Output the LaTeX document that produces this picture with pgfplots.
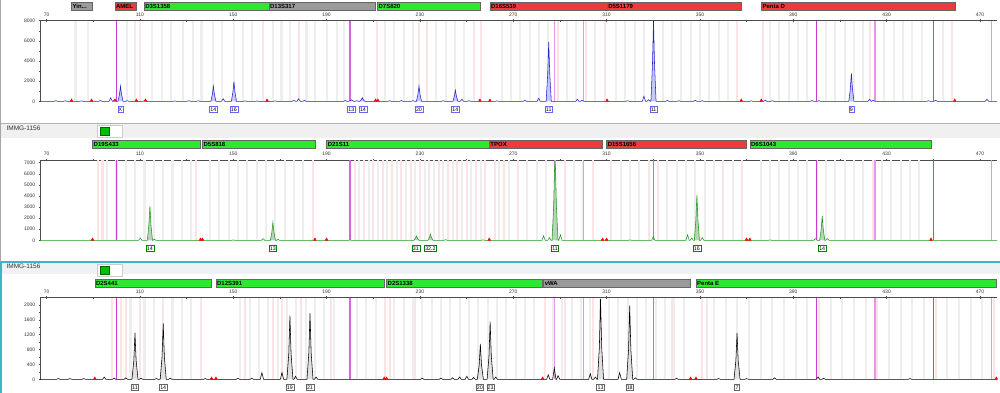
\documentclass[border=0pt]{standalone}
\usepackage{fontspec}
\setmainfont{Liberation Sans}
\usepackage{pgfplots}
\pgfplotsset{compat=1.18}
\definecolor{bingray}{HTML}{EEEEEE}
\definecolor{binpink}{HTML}{FCE4E4}
\definecolor{magdark}{HTML}{C83CD4}
\definecolor{magmid}{HTML}{D466DC}
\definecolor{maglight}{HTML}{E497E8}
\definecolor{lgreen}{HTML}{2EE82E}
\definecolor{lred}{HTML}{F03A3A}
\definecolor{lgray}{HTML}{9A9A9A}
\definecolor{tblue}{HTML}{2323C8}
\definecolor{tgreen}{HTML}{1E9A1E}
\definecolor{tealc}{HTML}{3CB6C4}
\definecolor{sepg}{HTML}{F0F0F0}
\definecolor{sepb}{HTML}{EEF2F5}
\pgfplotsset{
 ep/.style={scale only axis, width=957pt, xmin=67.2, xmax=477.3, clip=false, anchor=south west,
   axis x line*=top, axis y line*=left, axis line style={-, black!70, line width=0.5pt},
   xtick={70,110,...,470}, minor xtick={90,130,...,450},
   tick align=center, major tick length=2.5pt, minor tick length=2pt,
   tick style={black!70, line width=0.4pt},
   every tick label/.append style={font=\fontsize{5}{6}\selectfont, text=black!80},
   /pgf/number format/assume math mode=true,
   /pgf/number format/set thousands separator={},
   scaled y ticks=false,
   xticklabel style={yshift=-0.5pt},
 },
 hdr/.style={scale only axis, width=957pt, xmin=67.2, xmax=477.3, ymin=0, ymax=1, hide axis, clip=false, anchor=south west},
}
\newcommand{\loc}[4]{\addplot[draw=black!60, fill=#3, line width=0.4pt] coordinates {(#1,0)(#2,0)(#2,1)(#1,1)} -- cycle;
  \node[anchor=west, inner sep=1pt, font=\fontsize{6}{7}\selectfont\bfseries] at (axis cs:#1,0.5) {#4};}
\newcommand{\al}[3]{\node[draw=#3, fill=white, inner sep=0.9pt, line width=0.5pt, font=\fontsize{5.3}{6}\selectfont, yshift=-8pt] at (axis cs:#1,0) {#2};}
\begin{document}
\begin{tikzpicture}[x=1pt,y=1pt]
\useasboundingbox (0,0) rectangle (1000,393);
\fill[white] (0,0) rectangle (1000,393);
% separator 1
\fill[sepg] (0,255) rectangle (1000,270);
\draw[black!30, line width=0.6pt] (0,270) -- (1000,270);
\node[anchor=west, font=\fontsize{6.5}{7}\selectfont, text=black!80] at (3,265) {IMMG-1156};
\draw[black!20, fill=white] (97,255.7) rectangle (122,268);
\draw[green!40!black, fill=green!75!black] (100,258) rectangle (109,266);
% separator 2
\fill[sepb] (0,119) rectangle (1000,131);
\draw[tealc, line width=1.2pt] (0,131) -- (1000,131);
\node[anchor=west, font=\fontsize{6.5}{7}\selectfont, text=black!80] at (3,126.3) {IMMG-1156};
\draw[black!20, fill=white] (97,116.3) rectangle (122,129);
\draw[green!40!black, fill=green!75!black] (100,119) rectangle (109,127);
\draw[black!35, line width=1pt] (0.5,131) -- (0.5,393);
\draw[tealc, line width=1.6pt] (0.8,0) -- (0.8,131);

% ===== headers =====
\begin{axis}[hdr, at={(40pt,383pt)}, height=7.3pt]
\loc{80.7}{89.5}{lgray}{Yin...}
\loc{99.3}{108.5}{lred}{AMEL}
\loc{111.8}{165.3}{lgreen}{D3S1358}
\loc{165.3}{211}{lgray}{D13S317}
\loc{211.8}{255.7}{lgreen}{D7S820}
\loc{260}{310.2}{lred}{D16S539}
\loc{310.2}{367.7}{lred}{D5S1179}
\loc{376.3}{459.2}{lred}{Penta D}
\end{axis}
\begin{axis}[hdr, at={(40pt,244.7pt)}, height=8.3pt]
\loc{89.7}{136}{lgreen}{D19S433}
\loc{136.8}{185}{lgreen}{D5S818}
\loc{190}{259.7}{lgreen}{D21S11}
\loc{259.7}{308.3}{lred}{TPOX}
\loc{310}{370}{lred}{D15S1656}
\loc{371.4}{449}{lgreen}{D6S1043}
\end{axis}
\begin{axis}[hdr, at={(40pt,105.7pt)}, height=8.3pt]
\loc{90.7}{140.7}{lgreen}{D2S441}
\loc{142.6}{214.7}{lgreen}{D12S391}
\loc{215.7}{282.6}{lgreen}{D2S1338}
\loc{283}{346}{lgray}{vWA}
\loc{348.3}{477}{lgreen}{Penta E}
\end{axis}

% ===== panel 1 =====
\begin{axis}[ep, at={(40pt,290.7pt)}, height=81.6pt, ymin=-100, ymax=8000, ytick={0,2000,...,8000}, minor y tick num=1]
\addplot[ycomb, draw=bingray, line width=2.1pt, mark=none] coordinates {(82.4,8000)(87.8,8000)(104.3,8000)(108,8000)(115.2,8000)(119.3,8000)(123.5,8000)(128.5,8000)(132.8,8000)(136.4,8000)(141.5,8000)(145,8000)(150.2,8000)(154.3,8000)(158,8000)(167.1,8000)(170.7,8000)(174.3,8000)(181.4,8000)(185,8000)(190,8000)(194.3,8000)(197.5,8000)(206,8000)(215,8000)(219,8000)(223,8000)(227,8000)(237,8000)(241,8000)(245,8000)(249,8000)(265,8000)(269,8000)(273,8000)(277,8000)(281,8000)(285,8000)(293,8000)(297,8000)(305,8000)(314,8000)(318,8000)(322,8000)(326,8000)(334,8000)(338,8000)(342,8000)(346,8000)(350,8000)(354,8000)(358,8000)(362,8000)(380,8000)(384,8000)(388,8000)(392,8000)(396,8000)(404,8000)(408,8000)(412,8000)(416,8000)(420,8000)(429,8000)(433,8000)(437,8000)(441,8000)(445,8000)(454,8000)};
\addplot[ycomb, draw=binpink, line width=2.1pt, mark=none] coordinates {(110,8000)(162.8,8000)(178,8000)(211.5,8000)(229.5,8000)(233,8000)(253,8000)(256,8000)(289,8000)(301,8000)(309.5,8000)(366,8000)(377,8000)(423,8000)(458,8000)};
\addplot[ycomb, draw=magdark, line width=1.5pt, mark=none] coordinates {(100,8000)(400,8000)(450,8000)};
\addplot[ycomb, draw=magmid, line width=1.2pt, mark=none] coordinates {(200,8000)(330,8000)};
\addplot[ycomb, draw=maglight, line width=1.1pt, mark=none] coordinates {(287.5,8000)(300,8000)(425,8000)(475,8000)};
\addplot[fill=blue!22, draw=none] coordinates {(100.6,0)(101.25,675)(101.7,1500)(102.15,675)(102.8,0)(140.4,0)(141.05,675)(141.5,1500)(141.95,675)(142.6,0)(149.2,0)(149.85,878)(150.3,1950)(150.75,878)(151.4,0)(199.5,0)(200.15,68)(200.6,150)(201.05,68)(201.7,0)(204.2,0)(204.85,158)(205.3,350)(205.75,158)(206.4,0)(228.5,0)(229.15,675)(229.6,1500)(230.05,675)(230.7,0)(244.1,0)(244.75,495)(245.2,1100)(245.65,495)(246.3,0)(284.1,0)(284.75,2655)(285.2,5900)(285.65,2655)(286.3,0)(329,0)(329.65,3600)(330.1,8000)(330.55,3600)(331.2,0)(413.8,0)(414.45,1251)(414.9,2780)(415.35,1251)(416,0)} \closedcycle;
\addplot[draw=tblue, line width=0.55pt, mark=none] coordinates {(67.2,0)(73.3,0)(74,60)(74.7,0)(77.3,0)(78,50)(78.7,0)(84.3,0)(85,40)(85.7,0)(92.3,0)(93,80)(93.7,0)(96.8,0)(97.5,350)(98.2,0)(98.5,0)(99.2,150)(99.9,0)(100.6,0)(101.25,675)(101.7,1500)(102.15,675)(102.8,0)(103.8,0)(104.5,60)(105.2,0)(111.3,0)(112,50)(112.7,0)(124.3,0)(125,40)(125.7,0)(130.3,0)(131,60)(131.7,0)(134.3,0)(135,50)(135.7,0)(140.4,0)(141.05,675)(141.5,1500)(141.95,675)(142.6,0)(145,0)(145.7,250)(146.4,0)(149.2,0)(149.85,878)(150.3,1950)(150.75,878)(151.4,0)(154.3,0)(155,40)(155.7,0)(159.3,0)(160,30)(160.7,0)(167.3,0)(168,40)(168.7,0)(175.3,0)(176,80)(176.7,0)(177.3,0)(178,250)(178.7,0)(179.8,0)(180.5,100)(181.2,0)(197.3,0)(198,80)(198.7,0)(199.5,0)(200.15,68)(200.6,150)(201.05,68)(201.7,0)(202.3,0)(203,60)(203.7,0)(204.2,0)(204.85,158)(205.3,350)(205.75,158)(206.4,0)(216.3,0)(217,60)(217.7,0)(221.3,0)(222,80)(222.7,0)(226.3,0)(227,60)(227.7,0)(228.5,0)(229.15,675)(229.6,1500)(230.05,675)(230.7,0)(239.3,0)(240,50)(240.7,0)(244.1,0)(244.75,495)(245.2,1100)(245.65,495)(246.3,0)(247.3,0)(248,200)(248.7,0)(250.3,0)(251,60)(251.7,0)(262.3,0)(263,40)(263.7,0)(274.3,0)(275,100)(275.7,0)(280.2,0)(280.9,300)(281.6,0)(284.1,0)(284.75,2655)(285.2,5900)(285.65,2655)(286.3,0)(296.8,0)(297.5,200)(298.2,0)(298.8,0)(299.5,100)(300.2,0)(318.3,0)(319,60)(319.7,0)(325.3,0)(326,500)(326.7,0)(327.3,0)(328,150)(328.7,0)(329,0)(329.65,3600)(330.1,8000)(330.55,3600)(331.2,0)(335.3,0)(336,80)(336.7,0)(340.3,0)(341,60)(341.7,0)(347.3,0)(348,100)(348.7,0)(350.3,0)(351,60)(351.7,0)(371.3,0)(372,50)(372.7,0)(377.3,0)(378,100)(378.7,0)(380.3,0)(381,60)(381.7,0)(397.3,0)(398,80)(398.7,0)(400.3,0)(401,60)(401.7,0)(413.8,0)(414.45,1251)(414.9,2780)(415.35,1251)(416,0)(422,0)(422.7,200)(423.4,0)(423.6,0)(424.2,100)(424.9,0)(447.3,0)(448,60)(448.7,0)(450.3,0)(451,80)(451.7,0)(472.3,0)(473,200)(473.7,0)(477.3,0)};
\addplot[only marks, mark=triangle*, mark size=1.6pt, color=red] coordinates {(80.7,80)(89.3,80)(99.3,80)(108.5,80)(112.4,80)(164.5,80)(211,80)(212,80)(255.7,80)(260,80)(310.2,80)(367.7,80)(376.3,80)(459.2,80)};
\al{101.7}{X}{blue!60}\al{141.5}{14}{blue!60}\al{150.3}{16}{blue!60}\al{200.6}{13}{blue!60}\al{205.6}{14}{blue!60}
\al{229.6}{20}{blue!60}\al{245.2}{14}{blue!60}\al{285.2}{11}{blue!60}\al{330.1}{11}{blue!60}\al{414.9}{9}{blue!60}
\end{axis}

% ===== panel 2 =====
\begin{axis}[ep, at={(40pt,151.6pt)}, height=81.4pt, ymin=-100, ymax=7240, ytick={0,1000,...,7000}]
\addplot[ycomb, draw=bingray, line width=2.1pt, mark=none] coordinates {(96,7240)(104,7240)(108,7240)(112,7240)(116,7240)(120,7240)(124,7240)(128,7240)(132,7240)(140,7240)(144,7240)(148,7240)(152,7240)(156,7240)(160,7240)(164,7240)(168,7240)(172,7240)(176,7240)(180,7240)(204,7240)(208,7240)(212,7240)(216,7240)(220,7240)(224,7240)(228,7240)(232,7240)(236,7240)(240,7240)(244,7240)(248,7240)(252,7240)(256,7240)(264,7240)(268,7240)(276,7240)(280,7240)(284,7240)(296,7240)(300,7240)(316,7240)(320,7240)(324,7240)(336,7240)(340,7240)(344,7240)(348,7240)(352,7240)(356,7240)(364,7240)(376,7240)(380,7240)(384,7240)(388,7240)(392,7240)(396,7240)(404,7240)(408,7240)(412,7240)(416,7240)(420,7240)(428,7240)(432,7240)(436,7240)(440,7240)(444,7240)};
\addplot[ycomb, draw=binpink, line width=2.1pt, mark=none] coordinates {(92,7240)(94,7240)(100,7240)(134,7240)(184,7240)(202,7240)(206,7240)(210,7240)(214,7240)(218,7240)(222,7240)(226,7240)(230,7240)(234,7240)(238,7240)(242,7240)(246,7240)(250,7240)(254,7240)(258,7240)(262,7240)(266,7240)(272,7240)(288,7240)(292,7240)(304,7240)(312,7240)(328,7240)(332,7240)(360,7240)(368,7240)(400,7240)(424,7240)};
\addplot[ycomb, draw=magdark, line width=1.5pt, mark=none] coordinates {(100,7240)(400,7240)(450,7240)};
\addplot[ycomb, draw=magmid, line width=1.2pt, mark=none] coordinates {(200,7240)(330,7240)};
\addplot[ycomb, draw=maglight, line width=1.1pt, mark=none] coordinates {(287.5,7240)(300,7240)(425,7240)(475,7240)};
\addplot[fill=green!25!gray!45, draw=none] coordinates {(113.2,0)(113.85,1390)(114.3,3090)(114.75,1390)(115.4,0)(165.9,0)(166.55,729)(167,1620)(167.45,729)(168.1,0)(227.4,0)(228.05,176)(228.5,390)(228.95,176)(229.6,0)(233.4,0)(234.05,243)(234.5,540)(234.95,243)(235.6,0)(286.6,0)(287.3,3000)(287.7,6500)(287.9,7200)(288.1,6500)(288.5,3000)(289.2,0)(347.6,0)(348.25,1836)(348.7,4080)(349.15,1836)(349.8,0)(401.3,0)(401.95,986)(402.4,2190)(402.85,986)(403.5,0)} \closedcycle;
\addplot[draw=tgreen, line width=0.55pt, mark=none] coordinates {(67.2,0)(109.5,0)(110.2,200)(110.9,0)(113.2,0)(113.85,1390)(114.3,3090)(114.75,1390)(115.4,0)(115.6,0)(116.2,100)(116.8,0)(149.3,0)(150,30)(150.7,0)(162.1,0)(162.8,150)(163.5,0)(165.9,0)(166.55,729)(167,1620)(167.45,729)(168.1,0)(168.5,0)(169.2,80)(169.9,0)(199.3,0)(200,30)(200.7,0)(227.4,0)(228.05,176)(228.5,390)(228.95,176)(229.6,0)(233.4,0)(234.05,243)(234.5,540)(234.95,243)(235.6,0)(240.3,0)(241,60)(241.7,0)(256.3,0)(257,40)(257.7,0)(282.3,0)(283,400)(283.7,0)(284.8,0)(285.5,250)(286.2,0)(286.6,0)(287.3,3000)(287.7,6500)(287.9,7200)(288.1,6500)(288.5,3000)(289.2,0)(289.5,0)(290.2,500)(290.9,0)(319.3,0)(320,30)(320.7,0)(329.3,0)(330,350)(330.7,0)(344,0)(344.7,500)(345.4,0)(345.8,0)(346.5,200)(347.2,0)(347.6,0)(348.25,1836)(348.7,4080)(349.15,1836)(349.8,0)(350.3,0)(351,250)(351.7,0)(379.3,0)(380,30)(380.7,0)(398.8,0)(399.5,150)(400.2,0)(401.3,0)(401.95,986)(402.4,2190)(402.85,986)(403.5,0)(403.9,0)(404.6,150)(405.3,0)(477.3,0)};
\addplot[only marks, mark=triangle*, mark size=1.6pt, color=red] coordinates {(89.7,70)(136,70)(136.8,70)(185,70)(190,70)(259.7,70)(308.3,70)(310,70)(370,70)(371.4,70)(449,70)};
\al{114.3}{14}{green!50!black}\al{167}{13}{green!50!black}\al{228.3}{31}{green!50!black}\al{234.5}{32.2}{green!50!black}
\al{287.9}{11}{green!50!black}\al{348.7}{16}{green!50!black}\al{402.4}{14}{green!50!black}
\end{axis}

% ===== panel 3 =====
\begin{axis}[ep, at={(40pt,12.6pt)}, height=82.7pt, ymin=-30, ymax=2194, ytick={0,400,...,2000}, minor y tick num=1]
\addplot[ycomb, draw=bingray, line width=2.1pt, mark=none] coordinates {(106,2194)(112,2194)(116,2194)(124,2194)(128,2194)(132,2194)(153,2194)(157,2194)(161,2194)(165,2194)(169,2194)(173,2194)(177,2194)(181,2194)(185,2194)(189,2194)(193,2194)(203,2194)(207,2194)(211,2194)(219,2194)(223,2194)(227,2194)(231,2194)(235,2194)(239,2194)(243,2194)(247,2194)(251,2194)(255,2194)(259,2194)(263,2194)(267,2194)(271,2194)(275,2194)(279,2194)(287,2194)(291,2194)(295,2194)(299,2194)(303,2194)(307,2194)(311,2194)(315,2194)(319,2194)(323,2194)(327,2194)(331,2194)(335,2194)(339,2194)(343,2194)(356,2194)(361,2194)(366,2194)(371,2194)(376,2194)(381,2194)(386,2194)(391,2194)(396,2194)(406,2194)(411,2194)(416,2194)(421,2194)(431,2194)(436,2194)(441,2194)(446,2194)(456,2194)(461,2194)(466,2194)(471,2194)};
\addplot[ycomb, draw=binpink, line width=2.1pt, mark=none] coordinates {(98,2194)(102,2194)(104,2194)(110,2194)(120,2194)(136,2194)(155,2194)(167,2194)(171,2194)(179,2194)(192,2194)(215,2194)(217,2194)(228,2194)(283.5,2194)(292,2194)(304,2194)(338,2194)(351,2194)(353,2194)(401,2194)(426,2194)(451,2194)(476,2194)};
\addplot[ycomb, draw=magdark, line width=1.5pt, mark=none] coordinates {(100,2194)(400,2194)(450,2194)};
\addplot[ycomb, draw=magmid, line width=1.2pt, mark=none] coordinates {(200,2194)(330,2194)};
\addplot[ycomb, draw=maglight, line width=1.1pt, mark=none] coordinates {(287.5,2194)(300,2194)(425,2194)(475,2194)};
\addplot[fill=black!12, draw=none] coordinates {(106.6,0)(107.4,500)(107.9,1250)(108.4,500)(109.2,0)(118.7,0)(119.5,600)(120,1500)(120.5,600)(121.3,0)(173,0)(173.8,684)(174.3,1710)(174.8,684)(175.6,0)(181.6,0)(182.4,710)(182.9,1775)(183.4,710)(184.2,0)(254.6,0)(255.4,380)(255.9,950)(256.4,380)(257.2,0)(258.8,0)(259.6,620)(260.1,1550)(260.6,620)(261.4,0)(306.1,0)(306.9,864)(307.4,2160)(307.9,864)(308.7,0)(318.6,0)(319.4,792)(319.9,1980)(320.4,792)(321.2,0)(364.6,0)(365.4,500)(365.9,1250)(366.4,500)(367.2,0)} \closedcycle;
\addplot[draw=black, line width=0.55pt, mark=none] coordinates {(67.2,0)(74.3,0)(75,20)(75.7,0)(79.3,0)(80,20)(80.7,0)(85.3,0)(86,20)(86.7,0)(94,0)(94.7,60)(95.4,0)(98.3,0)(99,30)(99.7,0)(103.3,0)(104,40)(104.7,0)(106.6,0)(107.4,500)(107.9,1250)(108.4,500)(109.2,0)(109.8,0)(110.5,30)(111.2,0)(116.3,0)(117,20)(117.7,0)(118.7,0)(119.5,600)(120,1500)(120.5,600)(121.3,0)(122.3,0)(123,30)(123.7,0)(137.3,0)(138,20)(138.7,0)(151.3,0)(152,30)(152.7,0)(157.3,0)(158,30)(158.7,0)(161.6,0)(162.3,180)(163,0)(170.2,0)(170.9,180)(171.6,0)(173,0)(173.8,684)(174.3,1710)(174.8,684)(175.6,0)(176,0)(176.7,80)(177.4,0)(181.6,0)(182.4,710)(182.9,1775)(183.4,710)(184.2,0)(184.8,0)(185.5,60)(186.2,0)(230.3,0)(231,30)(231.7,0)(238.3,0)(239,30)(239.7,0)(243.3,0)(244,40)(244.7,0)(246.3,0)(247,60)(247.7,0)(249.4,0)(250.1,80)(250.8,0)(252.3,0)(253,50)(253.7,0)(254.6,0)(255.4,380)(255.9,950)(256.4,380)(257.2,0)(258.8,0)(259.6,620)(260.1,1550)(260.6,620)(261.4,0)(261.8,0)(262.5,60)(263.2,0)(284.3,0)(285,120)(285.7,0)(286.9,0)(287.6,300)(288.3,0)(288.6,0)(289.2,100)(289.9,0)(302.3,0)(303,150)(303.7,0)(304.5,0)(305.2,60)(305.9,0)(306.1,0)(306.9,864)(307.4,2160)(307.9,864)(308.7,0)(314.9,0)(315.6,180)(316.3,0)(318.6,0)(319.4,792)(319.9,1980)(320.4,792)(321.2,0)(321.6,0)(322.3,40)(323,0)(339.3,0)(340,30)(340.7,0)(357.3,0)(358,20)(358.7,0)(364.6,0)(365.4,500)(365.9,1250)(366.4,500)(367.2,0)(369.3,0)(370,20)(370.7,0)(381.3,0)(382,40)(382.7,0)(399.9,0)(400.6,60)(401.3,0)(402.3,0)(403,30)(403.7,0)(439.3,0)(440,20)(440.7,0)(477.3,0)};
\addplot[only marks, mark=triangle*, mark size=1.6pt, color=red] coordinates {(90.7,22)(140.7,22)(142.6,22)(214.7,22)(215.7,22)(282.6,22)(346,22)(348.3,22)(477,22)};
\al{107.9}{11}{black!60}\al{120}{14}{black!60}\al{174.3}{19}{black!60}\al{182.9}{21}{black!60}\al{255.7}{20}{black!60}
\al{260.3}{23}{black!60}\al{307.4}{13}{black!60}\al{319.9}{18}{black!60}\al{365.9}{7}{black!60}
\end{axis}
\end{tikzpicture}
\end{document}
